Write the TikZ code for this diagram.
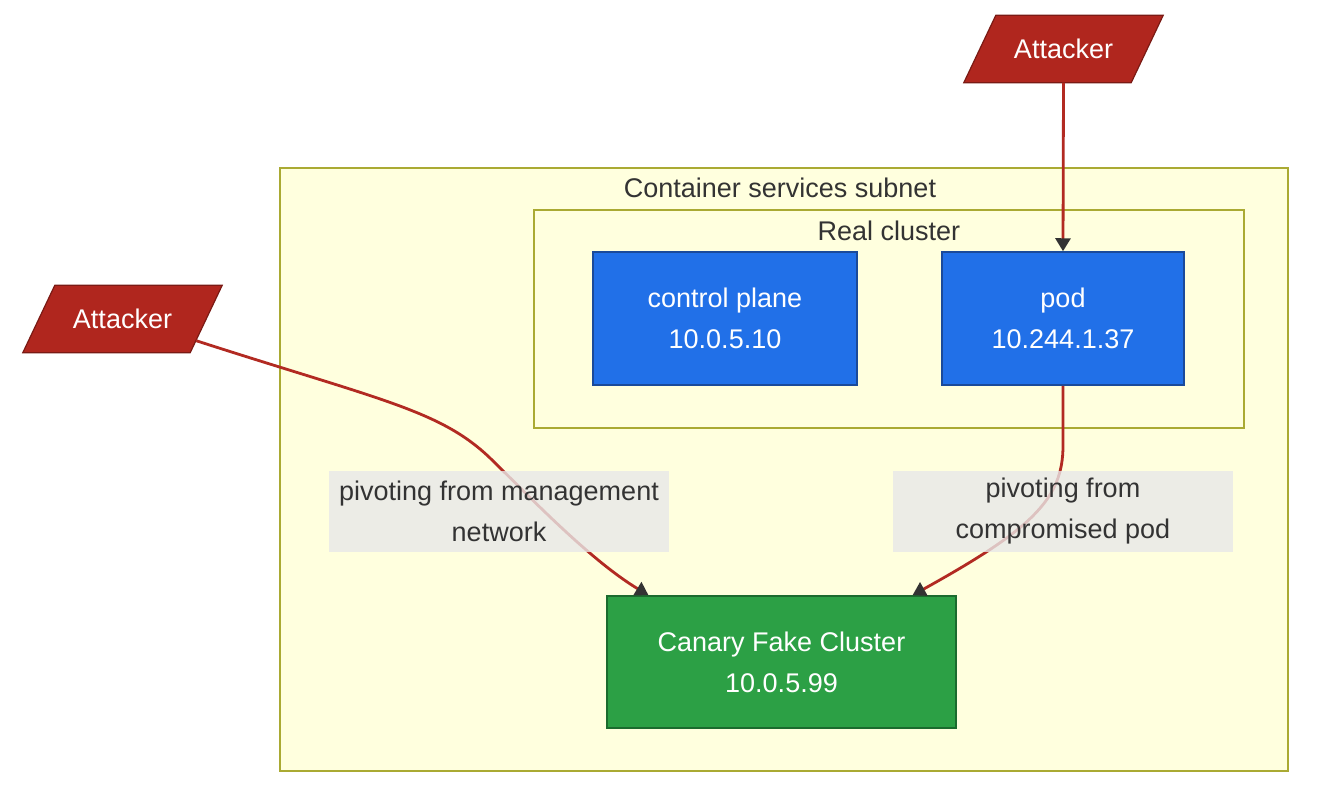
\documentclass[tikz,border=0pt]{standalone}
\usepackage{fontspec}
\setmainfont{Liberation Sans}
\usetikzlibrary{arrows.meta}
\pgfdeclarelayer{background}
\pgfsetlayers{background,main}
\definecolor{subfill}{HTML}{FFFFDE}
\definecolor{subdraw}{HTML}{AAAA33}
\definecolor{bluefill}{HTML}{2170E8}
\definecolor{bluedraw}{HTML}{1A4A9A}
\definecolor{greenfill}{HTML}{2CA045}
\definecolor{greendraw}{HTML}{1B6B2E}
\definecolor{redfill}{HTML}{B0261E}
\definecolor{reddraw}{HTML}{7A1A14}
\definecolor{edgered}{HTML}{B22A22}
\definecolor{tipgray}{HTML}{333333}
\definecolor{labfill}{HTML}{E8E8E8}
\definecolor{textgray}{HTML}{333333}
\begin{document}
\begin{tikzpicture}[x=1pt,y=-1pt,
  every node/.style={font=\fontsize{27}{41}\selectfont, inner sep=0pt},
  group/.style={draw=subdraw, fill=subfill, line width=1.5pt},
  gtitle/.style={text=textgray},
  bluebox/.style={draw=bluedraw, fill=bluefill, line width=1.5pt, text=white, align=center},
  greenbox/.style={draw=greendraw, fill=greenfill, line width=1.5pt, text=white, align=center},
  attacker/.style={text=white, minimum width=199pt, minimum height=67pt},
  attshape/.style={draw=reddraw, fill=redfill, line width=1.2pt, line join=miter},
  edge/.style={draw=edgered, line width=2.8pt, -{Triangle[width=15pt,length=13pt,color=tipgray]}},
  elabel/.style={fill=labfill, fill opacity=0.8, text opacity=1, text=textgray, align=center,
    minimum width=340pt, minimum height=81pt}
]
\useasboundingbox (0,0) rectangle (1318,796);
\node[group, minimum width=1008pt, minimum height=603pt] (subnet) at (784,469.5) {};
\node[gtitle] (subnettitle) at (780,188) {Container services subnet};
\node[group, minimum width=710pt, minimum height=218pt] (cluster) at (889,319) {};
\node[gtitle] (clustertitle) at (889,231) {Real cluster};
\node[bluebox, minimum width=264pt, minimum height=133pt] (cp) at (725,318.5) {control plane\\10.0.5.10};
\node[bluebox, minimum width=242pt, minimum height=133pt] (pod) at (1063,318.5) {pod\\10.244.1.37};
\node[greenbox, minimum width=349pt, minimum height=132pt] (can) at (781.5,662) {Canary Fake Cluster\\10.0.5.99};
\node[attacker] (att1) at (1063.5,49) {Attacker};
\node[attacker] (att2) at (122.5,319) {Attacker};
\begin{pgfonlayer}{background}
\draw[attshape] ([xshift=32pt]att1.north west) -- (att1.north east) -- ([xshift=-32pt]att1.south east) -- (att1.south west) -- cycle;
\draw[attshape] ([xshift=32pt]att2.north west) -- (att2.north east) -- ([xshift=-32pt]att2.south east) -- (att2.south west) -- cycle;
\end{pgfonlayer}
\draw[edge] (att1.south) -- (pod.north);
\draw[edge] ([xshift=-26pt,yshift=12pt]att2.south east) .. controls (380,400) and (440,410) .. (490,458) .. controls (530,497) and (590,560) .. ([xshift=-133pt]can.north);
\draw[edge] (pod.south) -- ([yshift=-60pt]pod.south) .. controls (1063,500) and (1030,530) .. ([xshift=131pt]can.north);
\node[elabel] (lab1) at (499,511.5) {pivoting from management\\network};
\node[elabel] (lab2) at (1063,511.5) {pivoting from\\compromised pod};
\end{tikzpicture}
\end{document}
